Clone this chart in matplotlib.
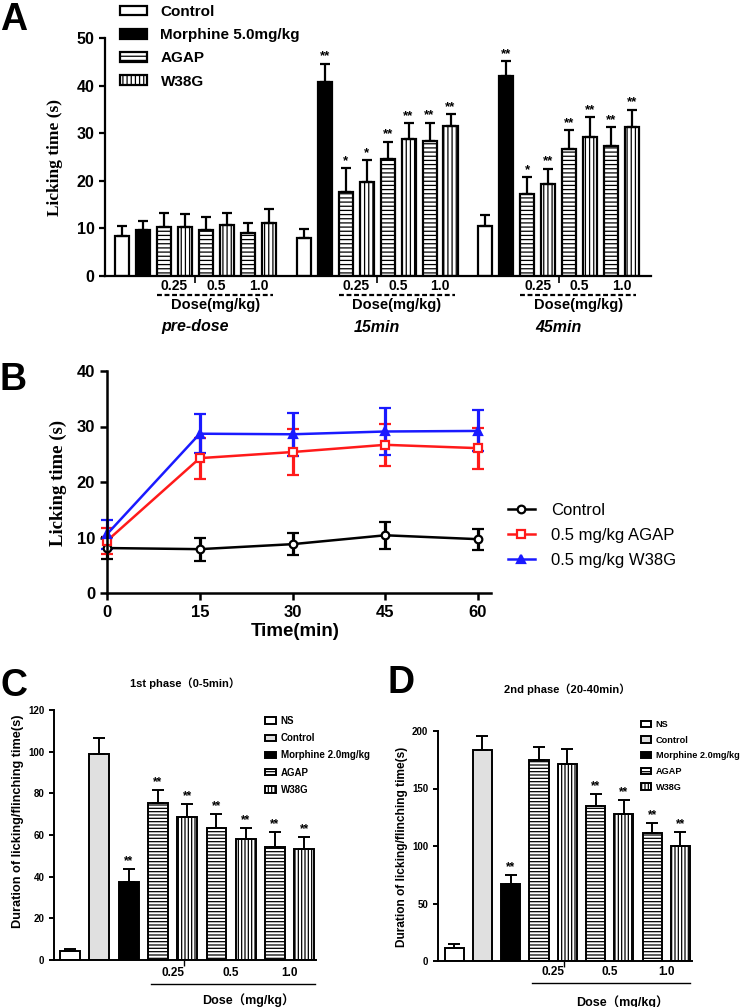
import matplotlib
matplotlib.use('Agg')
import matplotlib.pyplot as plt
from matplotlib import font_manager
from matplotlib.lines import Line2D
import matplotlib.transforms as mtrans
import numpy as np

# ---------------- data ----------------
A_groups = ['pre-dose', '15min', '45min']
A_doses = ['0.25', '0.5', '1.0']
A_control = [8.3, 7.9, 10.5]
A_control_err = [2.2, 1.9, 2.3]
A_morphine = [9.7, 40.8, 42.1]
A_morphine_err = [1.8, 3.8, 3.0]
A_agap = [[10.2, 9.7, 9.0], [17.6, 24.5, 28.4], [17.3, 26.7, 27.4]]
A_agap_err = [[3.0, 2.7, 2.2], [5.0, 3.7, 3.8], [3.4, 3.9, 3.8]]
A_w38g = [[10.2, 10.7, 11.1], [19.7, 28.8, 31.5], [19.3, 29.2, 31.2]]
A_w38g_err = [[2.9, 2.6, 2.9], [4.6, 3.3, 2.5], [3.2, 4.1, 3.7]]
A_morphine_sig = ['', '**', '**']
A_agap_sig = [['', '', ''], ['*', '**', '**'], ['*', '**', '**']]
A_w38g_sig = [['', '', ''], ['*', '**', '**'], ['**', '**', '**']]

B_time = [0, 15, 30, 45, 60]
B_control = [8.1, 7.9, 8.8, 10.4, 9.7]
B_control_err = [2.0, 2.1, 2.0, 2.4, 1.9]
B_agap = [9.4, 24.3, 25.4, 26.7, 26.1]
B_agap_err = [2.4, 3.7, 4.1, 3.8, 3.7]
B_w38g = [10.6, 28.7, 28.6, 29.1, 29.2]
B_w38g_err = [2.6, 3.5, 3.9, 4.2, 3.7]

CD_labels = ['NS', 'Control', 'Morphine 2.0mg/kg', 'AGAP', 'W38G']
C_values = [4.3, 98.7, 37.3, 75.2, 68.8, 63.2, 58.1, 54.1, 53.3]
C_err = [1.0, 8.0, 6.4, 6.4, 5.9, 6.7, 5.4, 7.3, 5.6]
C_sig = ['', '', '**', '**', '**', '**', '**', '**', '**']
D_values = [11.6, 183.4, 67.0, 174.7, 170.9, 135.0, 127.8, 111.2, 100.4]
D_err = [3.2, 12.2, 7.5, 11.3, 13.1, 10.6, 12.2, 9.0, 12.0]
D_sig = ['', '', '**', '', '', '**', '**', '**', '**']
CD_doses = ['0.25', '0.5', '1.0']

# ---------------- fonts ----------------
names = {f.name for f in font_manager.fontManager.ttflist}
SANS = 'Liberation Sans'
NARROW = 'Liberation Sans Narrow' if 'Liberation Sans Narrow' in names else 'Liberation Sans'
SERIF = 'Liberation Serif'
CJKFB = [NARROW, 'Noto Sans CJK SC', 'DejaVu Sans']

plt.rcParams['font.family'] = [SANS, 'DejaVu Sans']
plt.rcParams['hatch.linewidth'] = 0.9

W, H = 745, 1007
fig = plt.figure(figsize=(W / 100, H / 100), dpi=100)


def axpx(l, t, r, b):
    return fig.add_axes([l / W, 1 - b / H, (r - l) / W, (b - t) / H])


def fy(p):
    return 1 - p / H


def style_axes(ax, lw, tick_len, tick_w):
    for s in ['top', 'right']:
        ax.spines[s].set_visible(False)
    for s in ['left', 'bottom']:
        ax.spines[s].set_linewidth(lw)
    ax.tick_params(direction='out', length=tick_len, width=tick_w)


# ================= Panel A =================
axA = axpx(105, 38, 651, 276)
GAP = 8.65
BW = 0.67
LW_A = 1.6
xc = [g * GAP for g in range(3)]
xm = [g * GAP + 1 for g in range(3)]
xa = [g * GAP + 2 + 2 * k for g in range(3) for k in range(3)]
xw = [g * GAP + 3 + 2 * k for g in range(3) for k in range(3)]
ya = [v for row in A_agap for v in row]
yw = [v for row in A_w38g for v in row]
ea = [v for row in A_agap_err for v in row]
ew = [v for row in A_w38g_err for v in row]
sa = [v for row in A_agap_sig for v in row]
sw = [v for row in A_w38g_sig for v in row]

hA = []
hA.append(axA.bar(xc, A_control, BW, color='white', edgecolor='black', lw=LW_A, label='Control'))
hA.append(axA.bar(xm, A_morphine, BW, color='black', edgecolor='black', lw=LW_A, label='Morphine 5.0mg/kg'))
hA.append(axA.bar(xa, ya, BW, color='white', edgecolor='black', lw=LW_A, hatch='----', label='AGAP'))
hA.append(axA.bar(xw, yw, BW, color='white', edgecolor='black', lw=LW_A, hatch='||||', label='W38G'))

for xs, ys, es, ss in [(xc, A_control, A_control_err, ['', '', '']),
                       (xm, A_morphine, A_morphine_err, A_morphine_sig),
                       (xa, ya, ea, sa), (xw, yw, ew, sw)]:
    axA.errorbar(xs, ys, yerr=[np.zeros(len(es)), es], fmt='none', ecolor='black',
                 elinewidth=LW_A, capsize=3.5, capthick=LW_A, zorder=1)
    for x, y, e, s in zip(xs, ys, es, ss):
        if s:
            axA.text(x, y + e + 0.3, s, ha='center', va='bottom', fontsize=9.5,
                     fontweight='bold', family=SANS)

axA.set_xlim(-0.81, 25.2)
axA.set_ylim(0, 50)
style_axes(axA, LW_A, 4, LW_A)
axA.set_yticks([0, 10, 20, 30, 40, 50])
axA.set_yticklabels(['0', '10', '20', '30', '40', '50'], fontsize=11.5, fontweight='bold', family=SANS)
axA.set_xticks([g * GAP + 3.5 for g in range(3)])
axA.set_xticklabels(['', '', ''])
axA.tick_params(axis='x', length=5, width=1.2)

trA = mtrans.blended_transform_factory(axA.transData, fig.transFigure)
for g in range(3):
    for k, d in enumerate(A_doses):
        axA.text(g * GAP + 2.5 + 2 * k, fy(286), d, transform=trA, ha='center', va='center',
                 fontsize=10, fontweight='bold', family=SANS)
    fig.add_artist(Line2D([g * GAP + 1.67, g * GAP + 7.2], [fy(295), fy(295)], transform=trA,
                          color='black', lw=1.6, ls=(0, (2.2, 1.2))))
    axA.text(g * GAP + 4.45, fy(305), 'Dose(mg/kg)', transform=trA, ha='center', va='center',
             fontsize=10.5, fontweight='bold', family=SANS)
    axA.text(g * GAP + 3.5, fy(327), A_groups[g], transform=trA, ha='center', va='center',
             fontsize=11.5, fontweight='bold', fontstyle='italic', family=SANS)

fig.text(55 / W, fy(158), 'Licking time (s)', rotation=90, ha='center', va='center',
         fontsize=12.5, fontweight='bold', family=SERIF)
fig.legend(handles=hA, loc='upper left', bbox_to_anchor=(120 / W, fy(5)), frameon=False,
           prop={'family': SANS, 'weight': 'bold', 'size': 11}, handlelength=1.75,
           handleheight=0.6, handletextpad=0.9, labelspacing=0.6, borderpad=0, borderaxespad=0)
fig.text(0.0, fy(2), 'A', ha='left', va='top', fontsize=27, fontweight='bold', family=SANS)

# ================= Panel B =================
axB = axpx(107, 371, 491, 593)
LWB = 1.8
series = [(B_control, B_control_err, 'black', 'o', 'white', 'Control'),
          (B_agap, B_agap_err, '#ff1a1a', 's', 'white', '0.5 mg/kg AGAP'),
          (B_w38g, B_w38g_err, '#1a1aff', '^', '#1a1aff', '0.5 mg/kg W38G')]
hB = []
for ys, es, c, m, mf, lab in series:
    cont = axB.errorbar(B_time, ys, yerr=es, color=c, marker=m, mfc=mf, mec=c, ms=5.5, mew=1.6,
                        lw=LWB, elinewidth=2.3, capsize=4.5, capthick=2.3, clip_on=False)
    for art in [cont[0], *cont[1], *cont[2]]:
        art.set_clip_on(False)
    hB.append(Line2D([], [], color=c, marker=m, mfc=mf, mec=c, ms=5.5, mew=1.6, lw=LWB, label=lab))

axB.set_xlim(0, 62.1)
axB.set_ylim(0, 40)
style_axes(axB, LWB, 5, LWB)
axB.set_xticks(B_time)
axB.set_xticklabels([str(t) for t in B_time], fontsize=12, fontweight='bold', family=NARROW)
axB.set_yticks([0, 10, 20, 30, 40])
axB.set_yticklabels(['0', '10', '20', '30', '40'], fontsize=12, fontweight='bold', family=NARROW)
fig.text(58 / W, fy(483), 'Licking time (s)', rotation=90, ha='center', va='center',
         fontsize=13.5, fontweight='bold', family=SERIF)
fig.text(295 / W, fy(631), 'Time(min)', ha='center', va='center', fontsize=13.5,
         fontweight='bold', family=NARROW)
axB.legend(handles=hB, loc='upper left', bbox_to_anchor=(508 / W, fy(503)), bbox_transform=fig.transFigure,
           frameon=False, prop={'family': SANS, 'size': 12}, handlelength=1.6, handletextpad=1.0,
           labelspacing=0.6, borderpad=0, borderaxespad=0)
fig.text(0.0, fy(362), 'B', ha='left', va='top', fontsize=27, fontweight='bold', family=SANS)


# ================= Panels C, D =================
def cd_panel(ax, vals, errs, sigs, ymax, ystep, xlim, legend_anchor, lab_y, line_y, dose_y, dose_x,
             title, title_xy, ylabel_xy, ylabel_size, letter, letter_xy, leg_spacing, leg_size):
    LW = 1.4
    BWc = 0.68
    styles = [dict(color='white', hatch=None), dict(color='#e0e0e0', hatch=None),
              dict(color='black', hatch=None), dict(color='white', hatch='-----'),
              dict(color='white', hatch='|||||')]
    idx = [[0], [1], [2], [3, 5, 7], [4, 6, 8]]
    handles = []
    for st, ids, lab in zip(styles, idx, CD_labels):
        h = ax.bar(ids, [vals[i] for i in ids], BWc, color=st['color'], edgecolor='black', lw=LW,
                   hatch=st['hatch'], label=lab)
        handles.append(h)
    xs = list(range(len(vals)))
    ax.errorbar(xs, vals, yerr=[np.zeros(len(errs)), errs], fmt='none', ecolor='black',
                elinewidth=LW, capsize=4, capthick=LW, zorder=1)
    for x, v, e, s in zip(xs, vals, errs, sigs):
        if s:
            ax.text(x, v + e + ymax * 0.008, s, ha='center', va='bottom', fontsize=8.5,
                    fontweight='bold', family=SANS)
    ax.set_xlim(*xlim)
    ax.set_ylim(0, ymax)
    style_axes(ax, LW, 3.5, LW)
    ticks = list(range(0, ymax + 1, ystep))
    ax.set_yticks(ticks)
    ax.set_yticklabels([str(t) for t in ticks], fontsize=7, fontweight='bold', family=NARROW)
    ax.set_xticks([3.9])
    ax.set_xticklabels([''])
    ax.tick_params(axis='x', length=4, width=1.0)
    tr = mtrans.blended_transform_factory(ax.transData, fig.transFigure)
    for k, d in enumerate(CD_doses):
        ax.text(3.5 + 2 * k, fy(lab_y), d, transform=tr, ha='center', va='center', fontsize=8.5,
                fontweight='bold', family=NARROW)
    fig.add_artist(Line2D([2.75, 8.35], [fy(line_y), fy(line_y)], transform=tr, color='black', lw=1.0))
    fig.text(dose_x / W, fy(dose_y), 'Dose（mg/kg）', ha='center', va='center', fontsize=9,
             fontweight='bold', family=CJKFB)
    fig.text(title_xy[0] / W, fy(title_xy[1]), title, ha='center', va='center', fontsize=8,
             fontweight='bold', family=CJKFB)
    fig.text(ylabel_xy[0] / W, fy(ylabel_xy[1]), 'Duration of licking/flinching time(s)', rotation=90,
             ha='center', va='center', fontsize=ylabel_size, fontweight='bold', family=SANS)
    ax.legend(handles=handles, loc='upper left', bbox_to_anchor=(legend_anchor[0] / W, fy(legend_anchor[1])),
              bbox_transform=fig.transFigure, frameon=False,
              prop={'family': NARROW, 'weight': 'bold', 'size': leg_size}, handlelength=1.1, handleheight=0.65,
              handletextpad=0.5, labelspacing=leg_spacing, borderpad=0, borderaxespad=0)
    fig.text(letter_xy[0] / W, fy(letter_xy[1]), letter, ha='left', va='top', fontsize=27,
             fontweight='bold', family=SANS)


axC = axpx(54, 710, 316, 960)
cd_panel(axC, C_values, C_err, C_sig, 120, 20, (-0.55, 8.4), (265, 716), 973, 984, 1000, 248,
         '1st phase（0-5min）', (185, 683), (18, 821), 9.2, 'C', (0, 668), 0.74, 7)

axD = axpx(438, 731, 692, 961)
cd_panel(axD, D_values, D_err, D_sig, 200, 50, (-0.57, 8.41), (641, 720), 972, 983, 1002, 622,
         '2nd phase（20-40min）', (567, 689), (402, 847), 8.6, 'D', (388, 665), 0.73, 6.6)

fig.savefig('out.png', dpi=100)
